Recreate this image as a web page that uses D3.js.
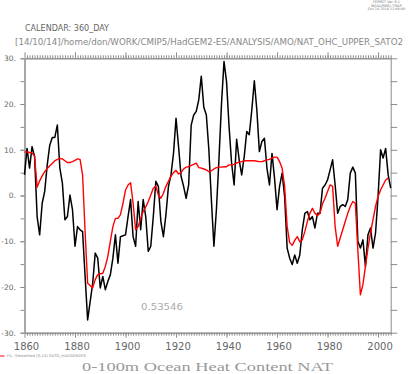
<!DOCTYPE html>
<html>
<head>
<meta charset="utf-8">
<script src="https://cdn.jsdelivr.net/npm/d3@7"></script>
<style>
  body { margin: 0; background: #fff; }
  svg { display: block; }
</style>
</head>
<body>
<div id="chart"></div>
<script>
// Raw NAT 0-100m OHC, one value per year from 1860
var rawYears = d3.range(1860, 2006);
var rawValues = [
  4.5, 10.3, 6, 10.7, 8.5, -4.6, -8.6, -1.7, 0.9, 6.7,
  11, 12.7, 12.7, 15.4, 6, 2.7, -5.3, -4.6, 0.1, -3.1,
  -11.1, -6.8, -7.5, -7.9, -17.7, -27.2, -23.2, -19.2, -12.6, -13.7,
  -20.2, -17.7, -20.6, -18.8, -17.3, -13.7, -8.6, -14.8, -9, -8.8,
  -8.6, -4.6, -0.9, -9, -11.1, -1.3, -7.5, -0.9, -4.6, -12.2,
  -11.1, -4.6, 3.1, 2, -5.7, -9, -4.2, 2, 4.5, 9.2,
  16.9, 10.7, 4.2, 2, -0.6, 2.3, 15.4, 17.6, 18.4, 20.9,
  26.1, 19.3, 17.6, 10, -1, -11.1, -3, 8, 20, 29.3,
  24.9, 15.1, 7.1, 2.3, 12.3, 7.8, 4.5, 8.5, 14, 13.3,
  18.7, 25.1, 18.7, 9.6, 11.8, 12.5, 6, 2.3, 9.2, 3.8,
  -3.1, 2, 4.9, -0.2, -11.5, -13.7, -15.1, -13, -14.8, -13,
  -7.5, -3.9, -3.5, -5.3, -4.6, -7.1, -3.9, -3.9, 1.6, 2.3,
  3.4, 5.6, 7.8, 2.3, -3.9, -2.4, -2, -2.4, -0.9, 4.9,
  6.2, 4.9, -10, -11.5, -9.7, -15.5, -8.6, -7.1, -11.5, -8.2,
  -0.2, 10, 8.2, 10.3, 4.5, 1.6
];

// Smoothed (S,15) SATO_HADGEM2ES
var smoothYears = d3.range(1860, 2005);
var smoothValues = [
  9.5, 9.5, 9.4, 9.3, 8.6, 1.8, 3.2, 4.3, 5.2, 5.9,
  6.5, 7.0, 7.6, 7.9, 8.1, 8.0, 7.6, 7.2, 7.2, 7.4,
  7.7, 8.0, 7.9, 4.5, -8, -19.2, -19.7, -20.2, -18.4, -17.3,
  -17.1, -17.0, -15.5, -13.3, -10, -6.8, -5, -5, -4.2, -1.7,
  1.2, 2.3, 2.8, -1.7, -7.5, -6.8, -5, -3.5, -2.5, -1.3,
  0.1, 1.6, 2.1, 0.1, -0.6, 0.5, 2, 3.1, 4.2, 5,
  5.5, 4.7, 5, 5.8, 6.2, 6.3, 6.6, 6.8, 7.1, 6.1,
  6, 5.8, 5.6, 5.2, 5.4, 5.8, 6.1, 6.2, 6.2, 6.3,
  6.3, 6.7, 6.7, 6.8, 7.1, 7.3, 7.4, 7.6, 7.6, 7.6,
  7.6, 7.6, 7.5, 7.4, 7.4, 7.6, 7.8, 7.9, 8.2, 8.4,
  8.4, 7.4, 6, 2, -6.8, -10.3, -10.9, -9.8, -9, -10.1,
  -9.7, -7.9, -5.7, -3.9, -2.8, -3.9, -4.4, -3.9, -1.8, -0.6,
  0.9, 2.3, 2, -6.8, -11.1, -9.3, -7.5, -5.7, -3.9, -2.4,
  -1.3, -1.7, -12, -21.7, -19.5, -15.5, -11.5, -8.2, -5.3, -2.4,
  -0.2, 1.2, 2.3, 3.4, 3.8
];

var yTicks = [-30, -20, -10, 0, 10, 20, 30];
var xTicks = [1860, 1880, 1900, 1920, 1940, 1960, 1980, 2000];

var W = 414, H = 374;
var plotL = 24.5, plotR = 390.7, plotT = 58.3, plotB = 332.7;
var axisColor = '#8c8c8c';
var labelColor = '#666';

var svg = d3.select('#chart').append('svg')
  .attr('width', W)
  .attr('height', H);

var x = d3.scaleLinear().domain([1860, 2005]).range([plotL, plotR]);
var y = d3.scaleLinear().domain([-30, 30]).range([plotB, plotT]);

// little header in the top right corner
var stamp = ['FERRET Ver. 6.1', 'NOAA/PMEL TMAP', 'Oct 14 2014 12:48:48'];
svg.selectAll('text.stamp')
  .data(stamp)
  .enter().append('text')
  .attr('class', 'stamp')
  .attr('x', 386.5)
  .attr('y', (d, i) => 3.4 + i * 3.5)
  .attr('text-anchor', 'middle')
  .style('font-family', 'DejaVu Sans, sans-serif')
  .style('font-size', '3.4px')
  .style('fill', '#777')
  .text(d => d);

svg.append('text')
  .attr('x', 25).attr('y', 31.2)
  .attr('textLength', 84).attr('lengthAdjust', 'spacingAndGlyphs')
  .style('font-family', 'DejaVu Sans, sans-serif')
  .style('font-size', '8.5px')
  .style('fill', '#666')
  .text('CALENDAR: 360_DAY');

svg.append('text')
  .attr('x', 15).attr('y', 45.3)
  .attr('textLength', 388).attr('lengthAdjust', 'spacingAndGlyphs')
  .style('font-family', 'DejaVu Sans, sans-serif')
  .style('font-size', '8.5px')
  .style('fill', '#888')
  .text('[14/10/14]/home/don/WORK/CMIP5/HadGEM2-ES/ANALYSIS/AMO/NAT_OHC_UPPER_SATO2');

// Axes
function styleAxis(g) {
  g.select('.domain').attr('stroke', axisColor);
  g.selectAll('.tick line').attr('stroke', axisColor);
  g.selectAll('.tick text')
    .style('font-family', 'DejaVu Sans, sans-serif')
    .style('fill', labelColor);
}

// left
svg.append('g')
  .attr('transform', 'translate(' + plotL + ',0)')
  .call(d3.axisLeft(y).tickValues(d3.range(-30, 31, 5)).tickSize(4).tickSizeOuter(0).tickFormat(''))
  .call(styleAxis);
svg.append('g')
  .attr('transform', 'translate(' + plotL + ',0)')
  .call(d3.axisLeft(y).tickValues(yTicks).tickSize(4).tickPadding(5).tickSizeOuter(0).tickFormat(d => d + '.'))
  .call(styleAxis)
  .call(g => g.selectAll('.tick text').style('font-size', '7.5px').attr('dx', 0.3));

// right
svg.append('g')
  .attr('transform', 'translate(' + plotR + ',0)')
  .call(d3.axisRight(y).tickValues(d3.range(-30, 31, 5)).tickSize(6.5).tickSizeOuter(0).tickFormat(''))
  .call(styleAxis);

// bottom
svg.append('g')
  .attr('transform', 'translate(0,' + plotB + ')')
  .call(d3.axisBottom(x).tickValues(d3.range(1861, 2006)).tickSize(3).tickSizeOuter(0).tickFormat(''))
  .call(styleAxis);
svg.append('g')
  .attr('transform', 'translate(0,' + plotB + ')')
  .call(d3.axisBottom(x).tickValues(xTicks).tickSize(5).tickPadding(5).tickSizeOuter(0).tickFormat(d3.format('d')))
  .call(styleAxis)
  .call(g => g.selectAll('.tick text').style('font-size', '10px').attr('dx', 1.5));

// top
svg.append('g')
  .attr('transform', 'translate(0,' + plotT + ')')
  .call(d3.axisTop(x).tickValues(d3.range(1861, 2006)).tickSize(3).tickSizeOuter(0).tickFormat(''))
  .call(styleAxis);
svg.append('g')
  .attr('transform', 'translate(0,' + plotT + ')')
  .call(d3.axisTop(x).tickValues(xTicks).tickSize(6).tickSizeOuter(0).tickFormat(''))
  .call(styleAxis);

// Lines
var raw = rawYears.map((yr, i) => ({year: yr, value: rawValues[i]}));
var smooth = smoothYears.map((yr, i) => ({year: yr, value: smoothValues[i]}));

var line = d3.line()
  .x(d => x(d.year))
  .y(d => y(d.value));

svg.append('path')
  .datum(raw)
  .attr('d', line)
  .attr('fill', 'none')
  .attr('stroke', '#000')
  .attr('stroke-width', 1.5)
  .attr('stroke-linejoin', 'round');

svg.append('path')
  .datum(smooth)
  .attr('d', line)
  .attr('fill', 'none')
  .attr('stroke', '#f00')
  .attr('stroke-width', 1.4)
  .attr('stroke-linejoin', 'round');

// correlation label
svg.append('text')
  .attr('x', 141).attr('y', 310)
  .attr('textLength', 42).attr('lengthAdjust', 'spacingAndGlyphs')
  .style('font-family', 'DejaVu Sans, sans-serif')
  .style('font-size', '9px')
  .style('fill', '#aaa')
  .text('0.53546');

// legend
svg.append('line')
  .attr('x1', 0).attr('x2', 4.5)
  .attr('y1', 356).attr('y2', 356)
  .attr('stroke', '#f00')
  .attr('stroke-width', 1);
svg.append('text')
  .attr('x', 7).attr('y', 357.4)
  .attr('textLength', 79).attr('lengthAdjust', 'spacingAndGlyphs')
  .style('font-family', 'DejaVu Sans, sans-serif')
  .style('font-size', '3.6px')
  .style('fill', '#888')
  .text('FIL: Smoothed (S,15) SATO_HADGEM2ES');

// title
svg.append('text')
  .attr('x', 82).attr('y', 371)
  .attr('textLength', 251).attr('lengthAdjust', 'spacingAndGlyphs')
  .style('font-family', 'Liberation Serif, DejaVu Serif, serif')
  .style('font-size', '13px')
  .style('fill', '#999')
  .text('0-100m Ocean Heat Content NAT');
</script>
</body>
</html>
